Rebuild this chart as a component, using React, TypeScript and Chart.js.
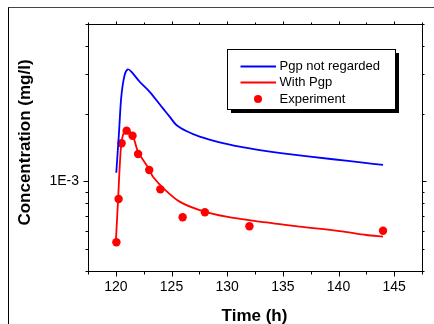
import React, { useEffect, useRef } from "react";
import { Chart, registerables } from "chart.js";

Chart.register(...registerables);

const pgpNotRegardedTime = [120.04, 120.28, 120.49, 120.79, 121.09, 121.39, 122.14, 123.04, 124.23, 124.83, 125.44, 126.33, 127.53, 129.33, 131.12, 132.92, 135.0, 139.5, 142.2, 144.0];
const pgpNotRegardedConc = [1.093e-3, 1.635e-3, 2.377e-3, 2.97e-3, 3.146e-3, 3.07e-3, 2.77e-3, 2.5e-3, 2.11e-3, 1.94e-3, 1.78e-3, 1.674e-3, 1.58e-3, 1.49e-3, 1.426e-3, 1.378e-3, 1.333e-3, 1.254e-3, 1.211e-3, 1.183e-3];

const withPgpTime = [120.0, 120.2, 120.49, 120.8, 121.03, 121.54, 121.99, 123.04, 123.33, 124.4, 125.73, 127.53, 129.93, 132.92, 136.5, 140.1, 142.5, 144.0];
const withPgpConc = [5.38e-4, 8.27e-4, 1.476e-3, 1.69e-3, 1.70e-3, 1.59e-3, 1.355e-3, 1.124e-3, 1.049e-3, 9.2e-4, 8.13e-4, 7.46e-4, 6.97e-4, 6.62e-4, 6.3e-4, 6.02e-4, 5.78e-4, 5.68e-4];

const experimentTime = [120.05, 120.25, 120.52, 120.97, 121.5, 122.0, 123.0, 124.0, 126.0, 128.0, 132.0, 144.0];
const experimentConc = [5.37e-4, 8.35e-4, 1.476e-3, 1.68e-3, 1.595e-3, 1.323e-3, 1.124e-3, 9.22e-4, 6.93e-4, 7.29e-4, 6.32e-4, 6.04e-4];

const seriesLabels = ["Pgp not regarded", "With Pgp", "Experiment"];
const xMajorTicks = [120, 125, 130, 135, 140, 145];
const xMinorTicks = [117.5, 122.5, 127.5, 132.5, 137.5, 142.5, 147.5];
const yMajorTicks = [1e-3];
const yMinorTicks = [4e-4, 5e-4, 6e-4, 7e-4, 8e-4, 9e-4, 2e-3, 3e-3, 4e-3, 5e-3];
const xTitle = "Time (h)";
const yTitle = "Concentration (mg/l)";

const FONT = "'Liberation Sans', Arial, Helvetica, sans-serif";

const toPoints = (xs: number[], ys: number[]) => xs.map((x, i) => ({ x, y: ys[i] }));

const decorPlugin = {
  id: "decor",
  afterDraw(chart: any) {
    const ctx = chart.ctx as CanvasRenderingContext2D;
    const xs = chart.scales.x;
    const ys = chart.scales.y;
    const a = chart.chartArea;
    ctx.save();
    ctx.strokeStyle = "#000";
    ctx.lineWidth = 1;
    ctx.strokeRect(Math.round(a.left) + 0.5, Math.round(a.top) + 0.5, Math.round(a.right - a.left), Math.round(a.bottom - a.top));
    const tick = (x1: number, y1: number, x2: number, y2: number) => {
      ctx.beginPath();
      ctx.moveTo(x1, y1);
      ctx.lineTo(x2, y2);
      ctx.stroke();
    };
    const bx = Math.round(a.bottom) + 0.5;
    const tx = Math.round(a.top) + 0.5;
    xMajorTicks.forEach((v) => {
      const p = Math.round(xs.getPixelForValue(v)) + 0.5;
      tick(p, bx, p, bx + 5);
      tick(p, tx, p, tx - 3);
    });
    xMinorTicks.forEach((v) => {
      const p = Math.round(xs.getPixelForValue(v)) + 0.5;
      tick(p, bx, p, bx + 3);
      tick(p, tx, p, tx - 2);
    });
    const lx = Math.round(a.left) + 0.5;
    const rx = Math.round(a.right) + 0.5;
    yMajorTicks.forEach((v) => {
      const p = Math.round(ys.getPixelForValue(v)) + 0.5;
      tick(lx, p, lx - 5, p);
      tick(rx, p, rx + 4, p);
    });
    yMinorTicks.forEach((v) => {
      const p = Math.round(ys.getPixelForValue(v)) + 0.5;
      tick(lx, p, lx - 3, p);
      tick(rx, p, rx + 2, p);
    });

    ctx.fillStyle = "#000";
    ctx.font = `bold 17px ${FONT}`;
    ctx.textAlign = "center";
    ctx.textBaseline = "alphabetic";
    ctx.fillText(xTitle, (a.left + a.right) / 2 - 0.5, 320.5);
    ctx.save();
    ctx.translate(29.5, (a.top + a.bottom) / 2 - 5);
    ctx.rotate(-Math.PI / 2);
    ctx.fillText(yTitle, 0, 0);
    ctx.restore();

    const L = 227, T = 49, W = 168, H = 60;
    ctx.fillStyle = "#000";
    ctx.fillRect(L + 4, T + 4, W, H);
    ctx.fillStyle = "#fff";
    ctx.fillRect(L, T, W, H);
    ctx.strokeStyle = "#000";
    ctx.lineWidth = 1;
    ctx.strokeRect(L + 0.5, T + 0.5, W, H);
    const rows = [66.5, 82.5, 99];
    const colors = ["#0000ff", "#ff0000", "#ff0000"];
    ctx.font = `13px ${FONT}`;
    ctx.textAlign = "left";
    ctx.textBaseline = "middle";
    rows.forEach((yy, i) => {
      ctx.strokeStyle = colors[i];
      ctx.fillStyle = colors[i];
      if (i < 2) {
        ctx.lineWidth = 1.8;
        ctx.beginPath();
        ctx.moveTo(240.5, yy);
        ctx.lineTo(276, yy);
        ctx.stroke();
      } else {
        ctx.beginPath();
        ctx.arc(258, yy, 4, 0, Math.PI * 2);
        ctx.fill();
      }
      ctx.fillStyle = "#000";
      ctx.fillText(seriesLabels[i], 279.5, yy);
    });
    ctx.restore();
  },
};

export default function App() {
  const ref = useRef<HTMLCanvasElement | null>(null);
  useEffect(() => {
    if (!ref.current) return;
    const chart = new Chart(ref.current, {
      type: "scatter",
      data: {
        datasets: [
          {
            label: seriesLabels[0],
            data: toPoints(pgpNotRegardedTime, pgpNotRegardedConc),
            showLine: true,
            borderColor: "#0000ff",
            backgroundColor: "#0000ff",
            borderWidth: 1.8,
            pointRadius: 0,
            tension: 0.3,
          },
          {
            label: seriesLabels[1],
            data: toPoints(withPgpTime, withPgpConc),
            showLine: true,
            borderColor: "#ff0000",
            backgroundColor: "#ff0000",
            borderWidth: 1.8,
            pointRadius: 0,
            tension: 0.3,
          },
          {
            label: seriesLabels[2],
            data: toPoints(experimentTime, experimentConc),
            showLine: false,
            borderColor: "#ff0000",
            backgroundColor: "#ff0000",
            pointRadius: 4.2,
            pointBorderWidth: 0,
          },
        ],
      },
      options: {
        responsive: false,
        animation: false,
        layout: { padding: { left: 0, top: 24, right: 12, bottom: 0 } },
        plugins: { legend: { display: false }, tooltip: { enabled: false } },
        scales: {
          x: {
            type: "linear",
            min: 117.5,
            max: 147.5,
            afterBuildTicks: (s: any) => {
              s.ticks = xMajorTicks.map((v) => ({ value: v }));
            },
            afterFit: (s: any) => {
              s.height = 53;
            },
            grid: { display: false, drawTicks: false },
            border: { display: false },
            ticks: {
              padding: 8,
              color: "#000",
              font: { family: FONT, size: 14 },
              maxRotation: 0,
              autoSkip: false,
              callback: (v: any) => String(v),
            },
          },
          y: {
            type: "logarithmic",
            min: 4e-4,
            max: 5e-3,
            afterBuildTicks: (s: any) => {
              s.ticks = yMajorTicks.map((v) => ({ value: v }));
            },
            afterFit: (s: any) => {
              s.width = 88;
            },
            grid: { display: false, drawTicks: false },
            border: { display: false },
            ticks: {
              padding: 9,
              color: "#000",
              font: { family: FONT, size: 14 },
              autoSkip: false,
              callback: () => "1E-3",
            },
          },
        },
      },
      plugins: [decorPlugin],
    } as any);
    return () => chart.destroy();
  }, []);
  return (
    <div style={{ position: "fixed", left: 0, top: 0, width: 434, height: 324, background: "#fff", overflow: "hidden" }}>
      <div
        style={{
          position: "absolute",
          left: 8,
          top: 7,
          width: 440,
          height: 330,
          borderTop: "1px solid #444",
          borderLeft: "1px solid #000",
        }}
      />
      <canvas ref={ref} width={434} height={324} style={{ position: "absolute", left: 0, top: 0, display: "block" }} />
    </div>
  );
}
